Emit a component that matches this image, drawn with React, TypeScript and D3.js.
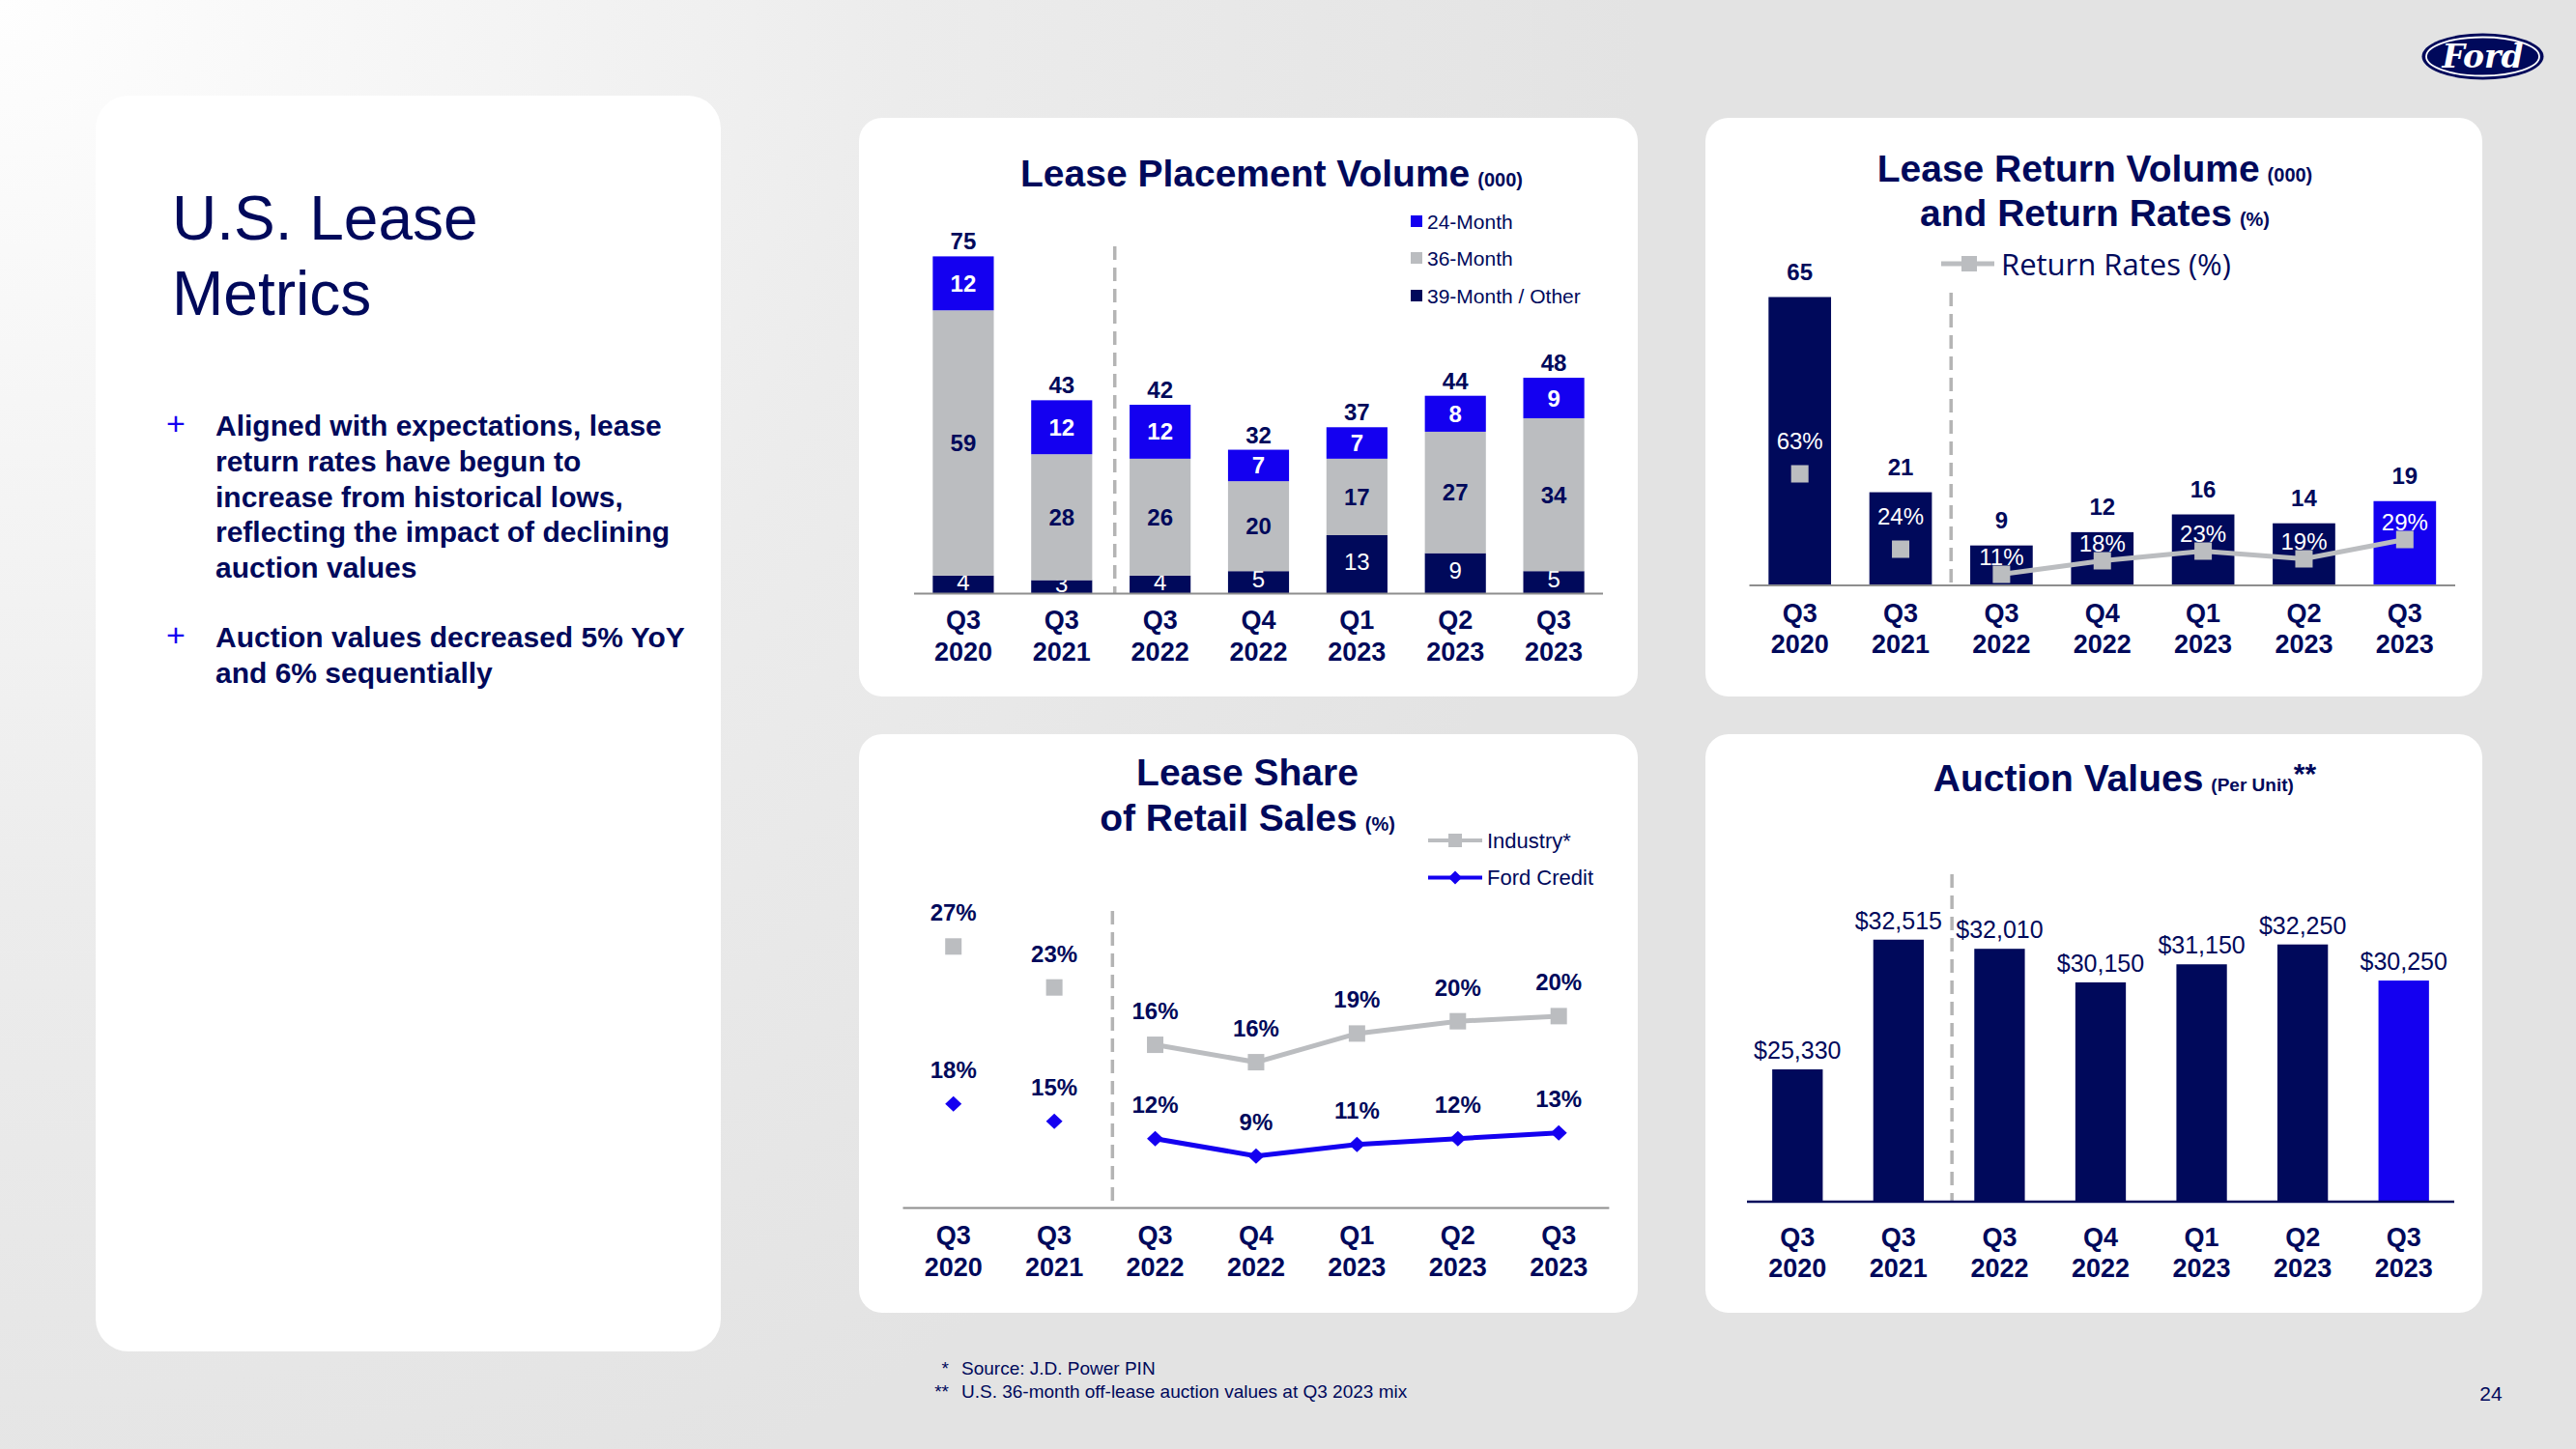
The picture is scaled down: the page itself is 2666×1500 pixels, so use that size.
import React from "react";
import * as d3 from "d3";

const NAVY = "#00095B";
const BLUE = "#1400F0";
const GREY = "#BBBDC0";
const AXIS_GREY = "#8E8E8E";
const DASH_GREY = "#B4B4B4";
const FONT = "'Liberation Sans', Arial, Helvetica, sans-serif";

// ---------- data ----------
const quarters = ["Q3", "Q3", "Q3", "Q4", "Q1", "Q2", "Q3"];
const years = ["2020", "2021", "2022", "2022", "2023", "2023", "2023"];

const placement24Month = [12, 12, 12, 7, 7, 8, 9];
const placement36Month = [59, 28, 26, 20, 17, 27, 34];
const placement39Month = [4, 3, 4, 5, 13, 9, 5];
const placementTotals = [75, 43, 42, 32, 37, 44, 48];
const placementLegend = ["24-Month", "36-Month", "39-Month / Other"];

const returnVolume = [65, 21, 9, 12, 16, 14, 19];
const returnRates = [63, 24, 11, 18, 23, 19, 29];

const industryShare = [27.0, 23.0, 17.4, 15.7, 18.5, 19.7, 20.2];
const industryShareLabels = ["27%", "23%", "16%", "16%", "19%", "20%", "20%"];
const fordCreditShare = [18, 15, 12, 9, 11, 12, 13];
const shareLegend = ["Industry*", "Ford Credit"];

const auctionValues = [25330, 32515, 32010, 30150, 31150, 32250, 30250];

const bulletOne = [
  "Aligned with expectations, lease",
  "return rates have begun to",
  "increase from historical lows,",
  "reflecting the impact of declining",
  "auction values",
];
const bulletTwo = ["Auction values decreased 5% YoY", "and 6% sequentially"];
const footnoteMarks = ["*", "**"];
const footnotes = ["Source:  J.D. Power PIN", "U.S. 36-month off-lease auction values at Q3 2023 mix"];

const idx = d3.range(quarters.length);

// ---------- helpers ----------
function Panel({ x, y, w, h, r = 24 }: any) {
  return <rect x={x} y={y} width={w} height={h} rx={r} ry={r} fill="#FFFFFF" />;
}

function XLabels({ cx, qy, yy }: any) {
  return (
    <g fill={NAVY} fontWeight={700} fontSize={27} textAnchor="middle">
      {idx.map((i) => (
        <g key={i}>
          <text x={cx(i)} y={qy} dominantBaseline="central">{quarters[i]}</text>
          <text x={cx(i)} y={yy} dominantBaseline="central">{years[i]}</text>
        </g>
      ))}
    </g>
  );
}

function Dashed({ x, y1, y2 }: any) {
  return <line x1={x} x2={x} y1={y1} y2={y2} stroke={DASH_GREY} strokeWidth={3.5} strokeDasharray="14 8" />;
}

function Diamond({ cx, cy, rx = 8.5, ry = 8, fill }: any) {
  return <path d={`M${cx},${cy - ry}L${cx + rx},${cy}L${cx},${cy + ry}L${cx - rx},${cy}Z`} fill={fill} />;
}

// ---------- chart 1 ----------
function PlacementChart() {
  const x = d3.scaleBand<number>().domain(idx).range([946, 1659]).paddingInner(0.38).paddingOuter(0.19);
  const y = d3.scaleLinear().domain([0, 75]).range([614.5, 265.4]);
  const rows = idx.map((i) => ({ m39: placement39Month[i], m36: placement36Month[i], m24: placement24Month[i] }));
  const series = d3.stack<any>().keys(["m39", "m36", "m24"])(rows);
  const fills = [NAVY, GREY, BLUE];
  const labelFill = ["#FFFFFF", NAVY, "#FFFFFF"];
  const labelWeight = [400, 700, 700];
  const cx = (i: number) => (x(i) as number) + x.bandwidth() / 2;
  const legendFills = [BLUE, GREY, NAVY];
  const legendY = [229, 267, 306];
  const dashX = ((x(1) as number) + x.bandwidth() + (x(2) as number)) / 2 + 4;
  return (
    <g>
      <Panel x={889} y={122} w={806} h={599} />
      <text x={1316} y={193} textAnchor="middle" fill={NAVY} fontWeight={700}>
        <tspan fontSize={39}>Lease Placement Volume</tspan>
        <tspan fontSize={20} dx={8}>(000)</tspan>
      </text>
      {placementLegend.map((t, k) => (
        <g key={t}>
          <rect x={1460} y={legendY[k] - 6} width={12} height={12} fill={legendFills[k]} />
          <text x={1477} y={legendY[k]} dominantBaseline="central" fontSize={21} fill={NAVY}>{t}</text>
        </g>
      ))}
      <Dashed x={dashX} y1={255} y2={614} />
      {series.map((s, k) => (
        <g key={s.key}>
          {s.map((d, i) => (
            <g key={i}>
              <rect x={x(i)} y={y(d[1])} width={x.bandwidth()} height={y(d[0]) - y(d[1])} fill={fills[k]} />
              <text
                x={cx(i)}
                y={(y(d[0]) + y(d[1])) / 2 + (k === 0 ? -3 : 0)}
                dominantBaseline="central"
                textAnchor="middle"
                fontSize={24}
                fontWeight={labelWeight[k]}
                fill={labelFill[k]}
              >
                {d[1] - d[0]}
              </text>
            </g>
          ))}
        </g>
      ))}
      {idx.map((i) => (
        <text key={i} x={cx(i)} y={y(placementTotals[i]) - 7} textAnchor="middle" fontSize={24} fontWeight={700} fill={NAVY}>
          {placementTotals[i]}
        </text>
      ))}
      <line x1={946} x2={1659} y1={614.5} y2={614.5} stroke={AXIS_GREY} strokeWidth={2} />
      <XLabels cx={cx} qy={642} yy={675} />
    </g>
  );
}

// ---------- chart 2 ----------
function ReturnChart() {
  const x = d3.scaleBand<number>().domain(idx).range([1810.5, 2541]).paddingInner(0.38).paddingOuter(0.19);
  const y = d3.scaleLinear().domain([0, 65]).range([606, 307.5]);
  const r = d3.scaleLinear().domain([0, 100]).range([616.5, 416.5]);
  const cx = (i: number) => (x(i) as number) + x.bandwidth() / 2;
  const lineIdx = idx.filter((i) => i >= 2);
  const line = d3.line<number>().x((i) => cx(i)).y((i) => r(returnRates[i]));
  const dashX = ((x(1) as number) + x.bandwidth() + (x(2) as number)) / 2;
  const last = idx.length - 1;
  return (
    <g>
      <Panel x={1765} y={122} w={804} h={599} />
      <text x={2168} y={188} textAnchor="middle" fill={NAVY} fontWeight={700}>
        <tspan fontSize={39}>Lease Return Volume</tspan>
        <tspan fontSize={20} dx={8}>(000)</tspan>
      </text>
      <text x={2168} y={234} textAnchor="middle" fill={NAVY} fontWeight={700}>
        <tspan fontSize={39}>and Return Rates</tspan>
        <tspan fontSize={20} dx={8}>(%)</tspan>
      </text>
      <line x1={2009} x2={2064} y1={273} y2={273} stroke={GREY} strokeWidth={5} />
      <rect x={2030} y={265} width={16} height={16} fill={GREY} />
      <text x={2071} y={273} dominantBaseline="central" fontSize={31} fill={NAVY} fontFamily="'Open Sans', 'Liberation Sans', sans-serif">
        Return Rates (%)
      </text>
      <Dashed x={dashX} y1={303} y2={606} />
      {idx.map((i) => (
        <g key={i}>
          <rect x={x(i)} y={y(returnVolume[i])} width={x.bandwidth()} height={y(0) - y(returnVolume[i])} fill={i === last ? BLUE : NAVY} />
          <text x={cx(i)} y={y(returnVolume[i]) - 18} textAnchor="middle" fontSize={24} fontWeight={700} fill={NAVY}>
            {returnVolume[i]}
          </text>
        </g>
      ))}
      <path d={line(lineIdx) || ""} fill="none" stroke={GREY} strokeWidth={5} />
      {idx.map((i) => (
        <g key={i}>
          <rect x={cx(i) - 9} y={r(returnRates[i]) - 9} width={18} height={18} fill={GREY} />
          <text
            x={cx(i)}
            y={r(returnRates[i]) - (i < 2 ? 34 : 18)}
            dominantBaseline="central"
            textAnchor="middle"
            fontSize={24}
            fill="#FFFFFF"
          >
            {returnRates[i]}%
          </text>
        </g>
      ))}
      <line x1={1810.5} x2={2541} y1={606} y2={606} stroke={AXIS_GREY} strokeWidth={2} />
      <XLabels cx={cx} qy={634.5} yy={667} />
    </g>
  );
}

// ---------- chart 3 ----------
function ShareChart() {
  const x = d3.scalePoint<number>().domain(idx).range([934.5, 1665.4]).padding(0.5);
  const yInd = d3.scaleLinear().domain([0, 30]).range([1266, 948]);
  const yFord = d3.scaleLinear().domain([0, 50]).range([1250.7, 950.7]);
  const cx = (i: number) => x(i) as number;
  const lineIdx = idx.filter((i) => i >= 2);
  const indLine = d3.line<number>().x((i) => cx(i)).y((i) => yInd(industryShare[i]));
  const fordLine = d3.line<number>().x((i) => cx(i)).y((i) => yFord(fordCreditShare[i]));
  const dashX = (cx(1) + cx(2)) / 2 + 8;
  return (
    <g>
      <Panel x={889} y={760} w={806} h={599} />
      <text x={1291} y={813} textAnchor="middle" fill={NAVY} fontWeight={700} fontSize={39}>Lease Share</text>
      <text x={1291} y={859.5} textAnchor="middle" fill={NAVY} fontWeight={700}>
        <tspan fontSize={39}>of Retail Sales</tspan>
        <tspan fontSize={20} dx={8}>(%)</tspan>
      </text>
      <line x1={1478} x2={1534} y1={870} y2={870} stroke={GREY} strokeWidth={4} />
      <rect x={1499} y={863} width={14} height={14} fill={GREY} />
      <text x={1539} y={870} dominantBaseline="central" fontSize={22} fill={NAVY}>{shareLegend[0]}</text>
      <line x1={1478} x2={1534} y1={908.5} y2={908.5} stroke={BLUE} strokeWidth={4} />
      <Diamond cx={1506} cy={908.5} rx={7} ry={7} fill={BLUE} />
      <text x={1539} y={908.5} dominantBaseline="central" fontSize={22} fill={NAVY}>{shareLegend[1]}</text>
      <Dashed x={dashX} y1={943} y2={1250} />
      <path d={indLine(lineIdx) || ""} fill="none" stroke={GREY} strokeWidth={5} />
      <path d={fordLine(lineIdx) || ""} fill="none" stroke={BLUE} strokeWidth={5} />
      {idx.map((i) => (
        <g key={i}>
          <rect x={cx(i) - 8.5} y={yInd(industryShare[i]) - 8.5} width={17} height={17} fill={GREY} />
          <Diamond cx={cx(i)} cy={yFord(fordCreditShare[i])} fill={BLUE} />
          <text x={cx(i)} y={yInd(industryShare[i]) - 35} dominantBaseline="central" textAnchor="middle" fontSize={24} fontWeight={700} fill={NAVY}>
            {industryShareLabels[i]}
          </text>
          <text x={cx(i)} y={yFord(fordCreditShare[i]) - 35} dominantBaseline="central" textAnchor="middle" fontSize={24} fontWeight={700} fill={NAVY}>
            {fordCreditShare[i]}%
          </text>
        </g>
      ))}
      <line x1={934.5} x2={1665.4} y1={1250.6} y2={1250.6} stroke={AXIS_GREY} strokeWidth={2} />
      <XLabels cx={cx} qy={1279.3} yy={1312} />
    </g>
  );
}

// ---------- chart 4 ----------
function AuctionChart() {
  const x = d3.scaleBand<number>().domain(idx).range([1808, 2540]).paddingInner(0.5).paddingOuter(0.25);
  const y = d3.scaleLinear().domain([18000, 34000]).range([1244, 945]);
  const cx = (i: number) => (x(i) as number) + x.bandwidth() / 2;
  const fmt = d3.format("$,");
  const dashX = ((x(1) as number) + x.bandwidth() + (x(2) as number)) / 2 + 3;
  const last = idx.length - 1;
  return (
    <g>
      <Panel x={1765} y={760} w={804} h={599} />
      <text x={2199} y={819} textAnchor="middle" fill={NAVY} fontWeight={700}>
        <tspan fontSize={39}>Auction Values</tspan>
        <tspan fontSize={19} dx={8}>(Per Unit)</tspan>
        <tspan fontSize={30} dy={-8}>**</tspan>
      </text>
      <Dashed x={dashX} y1={905} y2={1244} />
      {idx.map((i) => (
        <g key={i}>
          <rect x={x(i)} y={y(auctionValues[i])} width={x.bandwidth()} height={y(18000) - y(auctionValues[i])} fill={i === last ? BLUE : NAVY} />
          <text x={cx(i)} y={y(auctionValues[i]) - 11} textAnchor="middle" fontSize={25} fill={NAVY}>
            {fmt(auctionValues[i])}
          </text>
        </g>
      ))}
      <line x1={1808} x2={2540} y1={1244} y2={1244} stroke={NAVY} strokeWidth={2.5} />
      <XLabels cx={cx} qy={1280.5} yy={1313} />
    </g>
  );
}

// ---------- side panel, logo, notes ----------
function SidePanel() {
  const lh = 36.75;
  return (
    <g fill={NAVY}>
      <Panel x={99} y={99} w={647} h={1300} r={34} />
      <text x={178} y={248} fontSize={64}>U.S. Lease</text>
      <text x={178} y={326} fontSize={64}>Metrics</text>
      <text x={172} y={450} fontSize={34} fill={BLUE}>+</text>
      {bulletOne.map((t, k) => (
        <text key={t} x={223} y={451 + k * lh} fontSize={30} fontWeight={700}>{t}</text>
      ))}
      <text x={172} y={669} fontSize={34} fill={BLUE}>+</text>
      {bulletTwo.map((t, k) => (
        <text key={t} x={223} y={670 + k * lh} fontSize={30} fontWeight={700}>{t}</text>
      ))}
    </g>
  );
}

function FordLogo() {
  return (
    <g>
      <ellipse cx={2569.5} cy={58.5} rx={63} ry={24} fill={NAVY} />
      <ellipse cx={2569.5} cy={58.5} rx={58.5} ry={20} fill="none" stroke="#FFFFFF" strokeWidth={1.8} />
      <text x={2569.5} y={70} textAnchor="middle" fontSize={33} fontStyle="italic" fontWeight={700} fill="#FFFFFF" fontFamily="'DejaVu Serif', serif">
        Ford
      </text>
    </g>
  );
}

export default function App() {
  return (
    <svg
      width={2666}
      height={1500}
      viewBox="0 0 2666 1500"
      style={{ position: "absolute", left: 0, top: 0, display: "block" }}
      fontFamily={FONT}
    >
      <defs>
        <radialGradient id="bg" gradientUnits="userSpaceOnUse" cx={0} cy={0} r={1700}>
          <stop offset="0" stopColor="#FEFEFE" />
          <stop offset="0.55" stopColor="#ECECEC" />
          <stop offset="1" stopColor="#E3E3E3" />
        </radialGradient>
      </defs>
      <rect x={0} y={0} width={2666} height={1500} fill="url(#bg)" />
      <SidePanel />
      <PlacementChart />
      <ReturnChart />
      <ShareChart />
      <AuctionChart />
      <FordLogo />
      <g fill={NAVY} fontSize={19}>
        {footnotes.map((t, k) => (
          <g key={t}>
            <text x={982} y={1423 + k * 24} textAnchor="end">{footnoteMarks[k]}</text>
            <text x={995} y={1423 + k * 24}>{t}</text>
          </g>
        ))}
      </g>
      <text x={2578} y={1450} textAnchor="middle" fontSize={21} fill={NAVY}>24</text>
    </svg>
  );
}
